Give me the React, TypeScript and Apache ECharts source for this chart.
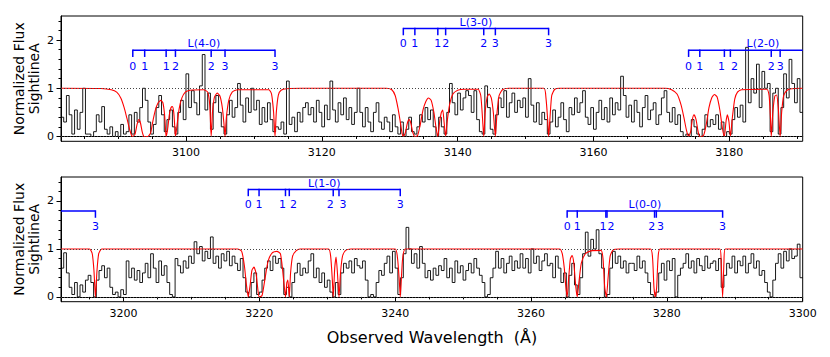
import React, { useEffect, useRef } from 'react';
import * as echarts from 'echarts';

// ---------------- data ----------------
const TOP_RANGE = [3081.6, 3190.8];
const BOTTOM_RANGE = [3190.8, 3300];
const Y_RANGE = [-0.1, 2.5];
const BIN = 0.4;

const xLabelsTop = [3100, 3120, 3140, 3160, 3180];
const xLabelsBottom = [3200, 3220, 3240, 3260, 3280, 3300];
const yLabels = [0, 1, 2];
const yMinorTicks = [0.2, 0.4, 0.6, 0.8, 1.2, 1.4, 1.6, 1.8, 2.2, 2.4];

// observed flux, 0.4 A bins starting at TOP_RANGE[0]
const specTop = [
  0.4, 0.3, 0.85, 0.45, 0.05, 0.55, 0.15, 0.5, 1.0, 0.05,
  0.05, 0.0, 0.1, 0.45, 0.3, 0.62, 0.15, 0.05, 0.2, 0.0,
  0.1, 0.0, 0.25, 0.05, 0.1, 0.45, 0.05, 0.5, 0.3, 0.6,
  1.0, 0.75, 0.3, 0.05, 0.25, 0.6, 0.85, 0.45, 0.1, 0.35,
  0.55, 0.2, 0.05, 0.5, 0.75, 0.35, 1.3, 0.6, 0.95, 0.7,
  0.45, 1.05, 1.7, 0.55, 0.9, 0.15, 0.7, 0.85, 0.5, 0.2,
  0.05, 0.45, 0.75, 0.4, 0.6, 1.1, 0.65, 0.3, 0.8, 0.5,
  1.0, 0.55, 0.75, 0.25, 0.6, 0.3, 0.7, 0.35, 0.1, 0.2,
  0.15, 0.3, 0.05, 1.15, 0.25, 0.4, 0.1, 0.5, 0.3, 0.6,
  0.7, 0.45, 0.6, 0.3, 0.75, 0.5, 0.2, 0.65, 0.35, 1.15,
  0.55, 0.3, 0.7, 0.45, 0.8, 0.35, 0.6, 0.25, 0.5, 1.0,
  0.5, 0.2, 0.6, 0.3, 0.1, 0.5, 0.7, 0.3, 0.15, 0.4,
  0.3, 0.1, 0.45, 0.2, 0.05, 0.3, 0.0, 0.15, 0.4, 0.1,
  0.05, 0.2, 0.45, 0.3, 0.6, 0.35, 0.55, 0.2, 0.0, 0.4,
  0.2, 0.05, 0.5, 1.1, 0.7, 0.45, 0.9, 0.55, 0.8, 0.95,
  0.85, 0.5, 0.95, 0.35, 0.1, 0.05, 1.05, 0.6, 0.15, 0.05,
  0.45, 0.8, 0.6, 0.95, 0.4, 0.7, 0.9, 0.5, 0.75, 0.6,
  0.8, 0.4, 1.2, 0.65, 0.3, 0.7, 0.25, 0.5, 0.35, 0.05,
  0.3, 0.55, 0.2, 0.4, 0.7, 0.35, 0.1, 0.6, 0.45, 0.8,
  0.5, 0.7, 0.95, 0.4, 0.25, 0.6, 0.15, 0.5, 0.75, 0.35,
  0.6, 0.3, 0.8, 0.45, 0.7, 0.55, 1.25, 0.85, 0.4, 0.65,
  0.3, 0.75, 0.5, 0.2, 0.6, 0.85, 0.35, 0.55, 0.7, 0.25,
  0.45, 0.8, 0.95, 0.5, 0.3, 0.6, 0.25, 0.45, 0.1, 0.0,
  0.05, 0.0, 0.35, 0.2, 0.05, 0.0, 0.15, 0.45, 0.2, 0.35,
  0.25, 0.45, 0.15, 0.3, 0.0, 0.1, 0.05, 0.35, 0.6, 0.4,
  0.65, 0.3, 1.85, 0.7, 1.2, 0.9, 1.5, 0.6, 1.35, 1.0,
  1.1, 0.1, 0.9, 1.0, 0.05, 0.6, 1.3, 0.8, 1.6, 1.1,
  0.7, 1.2, 0.5,
];

// observed flux, 0.4 A bins starting at BOTTOM_RANGE[0]
const specBottom = [
  0.6, 0.92, 0.5, 0.2, 0.05, 0.3, 0.0, 0.25, 0.1, 0.35,
  0.45, 0.3, 0.0, 0.35, 0.55, 0.65, 0.4, 0.6, 0.2, 0.05,
  0.1, 0.0, 0.15, 0.05, 0.75, 0.4, 0.6, 0.35, 0.55, 0.3,
  0.5, 0.7, 0.4, 0.9, 0.6, 0.3, 0.75, 0.45, 0.65, 0.3,
  0.05, 0.0, 0.8, 0.65, 0.5, 0.75, 0.6, 0.85, 0.7, 1.15,
  0.9, 1.05, 0.75, 0.95, 0.8, 1.25, 0.7, 0.85, 0.6, 0.9,
  0.75, 0.95, 0.65, 0.85, 0.7, 0.55, 0.8, 0.4, 0.1, 0.0,
  0.3, 0.5, 0.05, 0.1, 0.35, 0.6, 0.75, 0.55, 0.85, 0.7,
  0.8, 0.6, 0.05, 0.2, 0.0, 0.3, 0.5, 0.7, 0.45, 0.6,
  0.5, 0.75, 0.9, 0.4, 0.6, 0.3, 0.5, 0.2, 0.35, 0.1,
  0.0, 0.3, 0.05, 0.5, 0.7, 0.6, 0.75, 0.5, 0.8, 0.65,
  0.6, 0.75, 0.35, 0.0, 0.05, 0.0, 0.3, 0.55, 0.45, 0.7,
  0.85, 0.5, 0.95, 0.6, 0.05, 0.4, 0.9, 1.45, 1.0, 0.7,
  0.9, 0.6, 1.05, 0.7, 0.4, 0.55, 0.35, 0.6, 0.45, 0.65,
  0.55, 0.8, 0.4, 0.6, 0.3, 0.75, 0.5, 0.65, 0.35, 0.55,
  0.7, 0.5, 0.8, 0.6, 0.45, 0.3, 0.0, 0.05, 0.4, 0.6,
  0.95, 0.6, 0.8, 0.5, 0.7, 0.85, 0.55, 0.75, 0.6, 0.9,
  0.6, 0.8, 0.5, 1.0, 0.7, 0.85, 0.55, 0.75, 0.9, 0.65,
  0.7, 0.4, 0.85, 0.6, 0.3, 0.5, 0.0, 0.45, 0.7, 0.25,
  0.05, 0.4, 0.9, 1.35, 0.85, 1.2, 1.0, 1.4, 0.9, 0.6,
  0.0, 0.05, 0.6, 0.95, 0.7, 0.85, 0.6, 0.75, 0.5, 0.7,
  0.7, 0.55, 0.85, 0.6, 0.75, 0.5, 0.3, 0.05, 0.0, 0.1,
  0.5, 0.7, 0.35, 0.75, 0.55, 0.8, 0.0, 0.45, 0.6, 0.7,
  0.9, 0.6, 0.75, 0.5, 0.8, 0.65, 0.55, 0.85, 0.6, 0.7,
  0.75, 0.55, 0.8, 0.2, 0.45, 0.7, 0.6, 0.85, 0.5, 0.75,
  0.65, 0.85, 0.5, 0.7, 0.9, 0.6, 0.75, 0.45, 0.55, 0.3,
  0.1, 0.0, 0.35, 0.7, 0.9, 0.6, 0.95, 0.75, 1.0, 0.8,
  0.85, 1.1, 0.4,
];

// H2 model profile, [wavelength, normalized flux]
const modelTop = [
  [3081.6, 1.0], [3087.5, 0.995], [3089.0, 0.97], [3089.8, 0.92], [3090.4, 0.8], [3090.9, 0.6], [3091.3, 0.38],
  [3091.7, 0.15], [3092.0, 0.02], [3092.17, 0.0], [3092.5, 0.05], [3092.8, 0.25], [3093.05, 0.35], [3093.3, 0.28],
  [3093.55, 0.1], [3093.75, 0.01], [3093.92, 0.0], [3094.4, 0.0], [3094.8, 0.08], [3095.1, 0.3], [3095.5, 0.55],
  [3095.9, 0.7], [3096.3, 0.75], [3096.6, 0.7], [3096.85, 0.45], [3097.0, 0.12], [3097.08, 0.0], [3097.3, 0.15],
  [3097.55, 0.45], [3097.8, 0.6], [3098.0, 0.62], [3098.2, 0.5], [3098.35, 0.2], [3098.45, 0.0], [3098.7, 0.25],
  [3099.0, 0.58], [3099.4, 0.8], [3099.9, 0.92], [3100.6, 0.96], [3102.6, 0.97], [3103.2, 0.92], [3103.5, 0.65],
  [3103.71, 0.0], [3103.9, 0.5], [3104.2, 0.82], [3104.6, 0.9], [3105.0, 0.84], [3105.35, 0.6], [3105.6, 0.25],
  [3105.75, 0.0], [3105.95, 0.4], [3106.3, 0.75], [3106.8, 0.92], [3107.6, 0.97], [3112.2, 0.97], [3112.6, 0.88],
  [3112.9, 0.5], [3113.11, 0.0], [3113.3, 0.5], [3113.6, 0.86], [3114.0, 0.96], [3114.8, 0.99], [3117.0, 1.0],
  [3129.5, 1.0], [3130.3, 0.97], [3130.8, 0.85], [3131.2, 0.6], [3131.5, 0.35], [3131.8, 0.08], [3132.0, 0.0],
  [3132.3, 0.08], [3132.6, 0.28], [3132.85, 0.35], [3133.1, 0.28], [3133.4, 0.08], [3133.7, 0.0], [3134.1, 0.02],
  [3134.5, 0.25], [3134.9, 0.55], [3135.3, 0.72], [3135.7, 0.8], [3136.1, 0.75], [3136.5, 0.5], [3136.8, 0.2],
  [3137.08, 0.0], [3137.35, 0.3], [3137.6, 0.5], [3137.8, 0.55], [3138.0, 0.3], [3138.23, 0.0], [3138.45, 0.3],
  [3138.8, 0.65], [3139.3, 0.88], [3140.0, 0.96], [3141.0, 0.98], [3143.0, 0.98], [3143.4, 0.85], [3143.65, 0.4],
  [3143.84, 0.0], [3144.05, 0.5], [3144.35, 0.82], [3144.65, 0.88], [3144.95, 0.8], [3145.25, 0.5], [3145.55, 0.0],
  [3145.8, 0.5], [3146.1, 0.85], [3146.6, 0.97], [3147.5, 1.0], [3152.7, 1.0], [3153.0, 0.8], [3153.25, 0.35],
  [3153.39, 0.0], [3153.6, 0.4], [3153.85, 0.85], [3154.3, 0.98], [3155.0, 1.0],
  [3170.5, 1.0], [3171.5, 0.97], [3172.3, 0.88], [3172.9, 0.65], [3173.3, 0.4], [3173.7, 0.12], [3174.0, 0.0],
  [3174.3, 0.1], [3174.55, 0.35], [3174.8, 0.45], [3175.1, 0.35], [3175.4, 0.1], [3175.65, 0.0], [3176.2, 0.02],
  [3176.6, 0.25], [3177.0, 0.6], [3177.4, 0.8], [3177.8, 0.87], [3178.2, 0.82], [3178.6, 0.55], [3179.0, 0.15],
  [3179.27, 0.0], [3179.5, 0.3], [3179.7, 0.45], [3179.95, 0.3], [3180.15, 0.0], [3180.45, 0.4], [3180.8, 0.78],
  [3181.2, 0.92], [3181.8, 0.97], [3185.5, 0.98], [3185.85, 0.85], [3186.05, 0.4], [3186.17, 0.0], [3186.4, 0.5],
  [3186.7, 0.84], [3186.95, 0.86], [3187.2, 0.6], [3187.48, 0.0], [3187.7, 0.5], [3188.0, 0.85], [3188.5, 0.96],
  [3189.2, 0.99], [3190.8, 1.0],
];

const modelBottom = [
  [3190.8, 1.0], [3195.0, 1.0], [3195.4, 0.9], [3195.65, 0.55], [3195.87, 0.0], [3196.1, 0.55], [3196.35, 0.9],
  [3196.8, 1.0],
  [3216.8, 1.0], [3217.4, 0.95], [3217.8, 0.65], [3218.1, 0.25], [3218.37, 0.0], [3218.65, 0.25], [3218.9, 0.55],
  [3219.2, 0.62], [3219.5, 0.5], [3219.75, 0.2], [3219.96, 0.0], [3220.4, 0.03], [3220.8, 0.35], [3221.3, 0.75],
  [3221.9, 0.92], [3222.6, 0.95], [3223.1, 0.9], [3223.4, 0.6], [3223.65, 0.25], [3223.85, 0.0], [3224.05, 0.3],
  [3224.2, 0.35], [3224.41, 0.0], [3224.6, 0.5], [3224.9, 0.85], [3225.4, 0.96], [3226.0, 1.0],
  [3230.2, 1.0], [3230.5, 0.85], [3230.75, 0.35], [3230.88, 0.0], [3231.1, 0.6], [3231.3, 0.83], [3231.5, 0.5],
  [3231.73, 0.0], [3231.95, 0.5], [3232.25, 0.85], [3232.7, 0.97], [3233.5, 1.0],
  [3240.0, 1.0], [3240.35, 0.8], [3240.6, 0.35], [3240.75, 0.0], [3240.9, 0.35], [3241.1, 0.8], [3241.5, 1.0],
  [3264.2, 1.0], [3264.6, 0.9], [3264.9, 0.6], [3265.1, 0.25], [3265.32, 0.0], [3265.55, 0.4], [3265.8, 0.8],
  [3266.05, 0.86], [3266.3, 0.7], [3266.6, 0.2], [3266.81, 0.0], [3267.05, 0.3], [3267.4, 0.7], [3268.0, 0.9],
  [3268.8, 0.96], [3270.3, 0.97], [3270.6, 0.8], [3270.85, 0.2], [3271.1, 0.0], [3271.35, 0.4], [3271.65, 0.85],
  [3272.1, 0.98], [3273.0, 1.0],
  [3277.6, 1.0], [3277.9, 0.8], [3278.1, 0.2], [3278.3, 0.0], [3278.5, 0.2], [3278.7, 0.8], [3279.0, 1.0],
  [3287.8, 1.0], [3288.0, 0.7], [3288.21, 0.0], [3288.4, 0.7], [3288.6, 1.0], [3300.0, 1.0],
];

// H2 Lyman band line positions (observed, A): R(0) R(1) P(1) R(2) P(2) R(3) P(3)
const jLabels = ['0', '1', '1', '2', '2', '3', '3'];
const bandNames = ['L(4-0)', 'L(3-0)', 'L(2-0)', 'L(1-0)', 'L(0-0)'];
const bandL40 = [3092.17, 3093.92, 3097.08, 3098.45, 3103.71, 3105.75, 3113.11];
const bandL30 = [3132.0, 3133.7, 3137.08, 3138.23, 3143.84, 3145.55, 3153.39];
const bandL20 = [3174.0, 3175.65, 3179.27, 3180.15, 3186.17, 3187.48, 3195.87];
const bandL10 = [3218.37, 3219.96, 3223.85, 3224.41, 3230.88, 3231.73, 3240.75];
const bandL00 = [3265.32, 3266.81, 3271.02, 3271.19, 3278.19, 3278.45, 3288.21];
const bandWaves = [bandL40, bandL30, bandL20, bandL10, bandL00];
const bandLevel = ['low', 'high', 'low', 'high', 'low'];
const C = 'center';
const bandAlign = [
  [C, C, C, C, C, C, C],
  [C, C, C, C, C, C, C],
  [C, C, 'right', 'left', C, C, C],
  [C, C, 'right', 'left', 'right', 'left', C],
  [C, C, 'right', 'left', 'right', 'left', C],
];
// bracket heights in flux units: horizontal bar, tick end, J label, band title
const LEVELS: Record<string, { line: number; tick: number; label: number; title: number }> = {
  low: { line: 1.79, tick: 1.65, label: 1.46, title: 1.92 },
  high: { line: 2.24, tick: 2.1, label: 1.92, title: 2.37 },
};

// ---------------- helpers ----------------
const FONT = '"DejaVu Sans", "Liberation Sans", sans-serif';
const BLUE = '#0000ff';

function stepPoints(start: number, values: number[]) {
  const pts = values.map((v, i) => [+(start + i * BIN).toFixed(2), v]);
  pts.push([+(start + values.length * BIN).toFixed(2), values[values.length - 1]]);
  return pts;
}

function minorTicks(range: number[], majors: number[]) {
  const out: number[] = [];
  for (let v = Math.ceil(range[0] / 5) * 5; v <= range[1]; v += 5) {
    if (majors.indexOf(v) < 0) out.push(v);
  }
  return out;
}

function makeRender(range: number[]) {
  return (params: any, api: any) => {
    const i = params.dataIndex;
    const waves = bandWaves[i];
    const lv = LEVELS[bandLevel[i]];
    const xmin = range[0];
    const xmax = range[1];
    const first = waves[0];
    const last = waves[waves.length - 1];
    if (last < xmin || first > xmax) return null;
    const children: any[] = [];
    const a = api.coord([Math.max(first, xmin), lv.line]);
    const b = api.coord([Math.min(last, xmax), lv.line]);
    children.push({
      type: 'line',
      shape: { x1: a[0], y1: a[1], x2: b[0], y2: b[1] },
      style: { stroke: BLUE, lineWidth: 1.5 },
    });
    waves.forEach((w, k) => {
      if (w < xmin || w > xmax) return;
      const p = api.coord([w, lv.line]);
      const q = api.coord([w, lv.tick]);
      const t = api.coord([w, lv.label]);
      children.push({
        type: 'line',
        shape: { x1: p[0], y1: p[1] - 0.75, x2: q[0], y2: q[1] },
        style: { stroke: BLUE, lineWidth: 1.5 },
      });
      const al = bandAlign[i][k];
      const dx = al === 'right' ? 0.6 : al === 'left' ? 0.6 : 0;
      children.push({
        type: 'text',
        x: t[0] + dx,
        y: t[1],
        style: {
          text: jLabels[k],
          fill: BLUE,
          font: '11px ' + FONT,
          align: al,
          verticalAlign: 'middle',
        },
      });
    });
    const mid = (first + last) / 2;
    if (mid >= xmin && mid <= xmax) {
      const m = api.coord([mid, lv.title]);
      children.push({
        type: 'text',
        x: m[0],
        y: m[1],
        style: {
          text: bandNames[i],
          fill: BLUE,
          font: '11px ' + FONT,
          align: 'center',
          verticalAlign: 'middle',
        },
      });
    }
    return { type: 'group', children };
  };
}

const plainNumber = (v: number) => String(v);

function xAxes(gridIndex: number, range: number[], majors: number[]) {
  return [
    {
      gridIndex,
      type: 'value',
      position: 'bottom',
      min: range[0],
      max: range[1],
      axisLine: { show: true, lineStyle: { color: '#000', width: 1 } },
      axisTick: { show: true, customValues: majors, length: 4.5, lineStyle: { color: '#000', width: 1 } },
      axisLabel: {
        show: true,
        customValues: majors,
        formatter: plainNumber,
        color: '#000',
        fontSize: 11,
        fontFamily: FONT,
        margin: 6,
        showMinLabel: true,
        showMaxLabel: true,
      },
      splitLine: { show: false },
    },
    {
      gridIndex,
      type: 'value',
      position: 'bottom',
      min: range[0],
      max: range[1],
      axisLine: { show: false },
      axisTick: { show: true, customValues: minorTicks(range, majors), length: 2.5, lineStyle: { color: '#000', width: 1 } },
      axisLabel: { show: false },
      splitLine: { show: false },
    },
  ];
}

function yAxes(gridIndex: number) {
  return [
    {
      gridIndex,
      type: 'value',
      position: 'left',
      min: Y_RANGE[0],
      max: Y_RANGE[1],
      axisLine: { show: true, lineStyle: { color: '#000', width: 1 } },
      axisTick: { show: true, customValues: yLabels, length: 4.5, lineStyle: { color: '#000', width: 1 } },
      axisLabel: { show: true, customValues: yLabels, formatter: plainNumber, color: '#000', fontSize: 11, fontFamily: FONT, margin: 7 },
      splitLine: { show: false },
    },
    {
      gridIndex,
      type: 'value',
      position: 'left',
      min: Y_RANGE[0],
      max: Y_RANGE[1],
      axisLine: { show: false },
      axisTick: { show: true, customValues: yMinorTicks, length: 2.5, lineStyle: { color: '#000', width: 1 } },
      axisLabel: { show: false },
      splitLine: { show: false },
    },
  ];
}

function panelSeries(axisIndex: number, range: number[], spec: number[], model: number[][]) {
  return [
    {
      type: 'line',
      xAxisIndex: axisIndex,
      yAxisIndex: axisIndex,
      data: stepPoints(range[0], spec),
      step: 'end',
      symbol: 'none',
      clip: true,
      z: 2,
      lineStyle: { color: '#000', width: 0.9 },
      markLine: {
        silent: true,
        symbol: ['none', 'none'],
        label: { show: false },
        lineStyle: { color: '#444', type: [1, 2], width: 1 },
        data: [{ yAxis: 0 }, { yAxis: 1 }],
      },
    },
    {
      type: 'line',
      xAxisIndex: axisIndex,
      yAxisIndex: axisIndex,
      data: model,
      smooth: 0.2,
      symbol: 'none',
      clip: true,
      z: 3,
      lineStyle: { color: '#ff0000', width: 1.1 },
    },
    {
      type: 'custom',
      xAxisIndex: axisIndex,
      yAxisIndex: axisIndex,
      data: bandNames.map(() => [range[0], 0]),
      renderItem: makeRender(range),
      z: 5,
      silent: true,
    },
  ];
}

export default function App() {
  const ref = useRef<HTMLDivElement>(null);
  useEffect(() => {
    if (!ref.current) return;
    const chart = echarts.init(ref.current, null, { renderer: 'svg' });
    const option: any = {
      animation: false,
      backgroundColor: '#fff',
      textStyle: { fontFamily: FONT },
      grid: [
        { left: 61, right: 27.3, top: 16, height: 125.3, show: true, borderColor: '#000', borderWidth: 1, backgroundColor: 'transparent' },
        { left: 61, right: 27.3, top: 177, height: 124.7, show: true, borderColor: '#000', borderWidth: 1, backgroundColor: 'transparent' },
      ],
      xAxis: [...xAxes(0, TOP_RANGE, xLabelsTop), ...xAxes(1, BOTTOM_RANGE, xLabelsBottom)],
      yAxis: [...yAxes(0), ...yAxes(1)],
      series: [
        ...panelSeries(0, TOP_RANGE, specTop, modelTop),
        ...panelSeries(2, BOTTOM_RANGE, specBottom, modelBottom),
      ],
      graphic: [
        {
          type: 'text',
          x: 26,
          y: 78.7,
          rotation: Math.PI / 2,
          style: {
            text: 'Normalized Flux\nSightlineA',
            font: '14px ' + FONT,
            fill: '#000',
            align: 'center',
            verticalAlign: 'middle',
            lineHeight: 15,
          },
        },
        {
          type: 'text',
          x: 26,
          y: 239.3,
          rotation: Math.PI / 2,
          style: {
            text: 'Normalized Flux\nSightlineA',
            font: '14px ' + FONT,
            fill: '#000',
            align: 'center',
            verticalAlign: 'middle',
            lineHeight: 15,
          },
        },
        {
          type: 'text',
          x: 432,
          y: 337,
          style: {
            text: 'Observed Wavelength  (Å)',
            font: '16px ' + FONT,
            fill: '#000',
            align: 'center',
            verticalAlign: 'middle',
          },
        },
      ],
    };
    chart.setOption(option);
    return () => chart.dispose();
  }, []);
  return (
    <div
      ref={ref}
      style={{ position: 'fixed', left: 0, top: 0, width: 830, height: 357, background: '#fff' }}
    />
  );
}
